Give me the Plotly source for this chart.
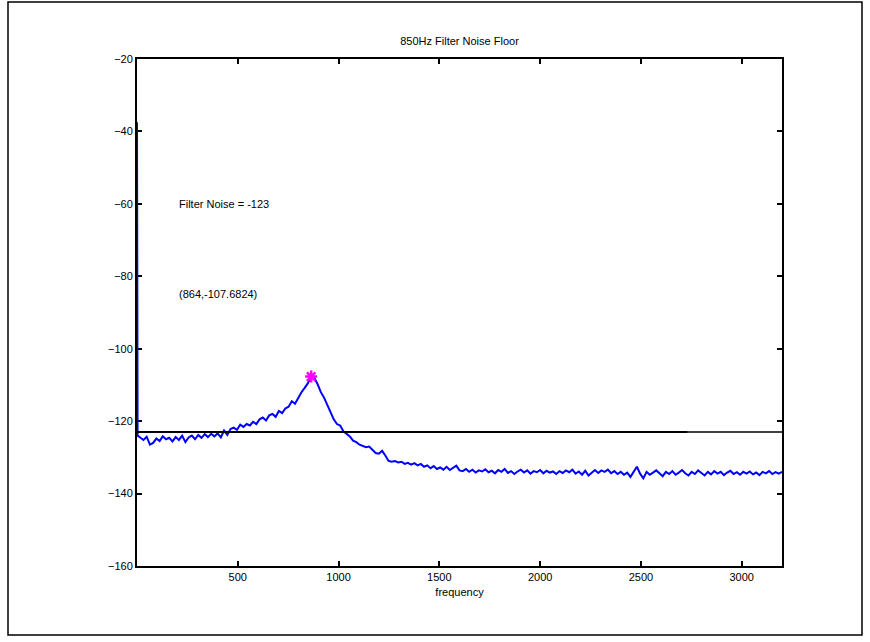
import numpy as np
import plotly.graph_objects as go

# Noise floor spectrum (step 16 Hz starting at 16 Hz)
spike_f = [0, 3]
spike_db = [-37.5, -124.0]
noise_db = [
    -124.5, -125.2, -124.3, -126.5, -126.0, -124.8, -125.5, -124.2, -125.0,
    -124.6, -125.6, -124.4, -125.2, -124.0, -125.8, -124.5, -124.0, -125.0, -123.8,
    -124.6, -123.6, -124.4, -123.5, -124.2, -123.4, -124.5, -122.6, -123.8, -122.2,
    -121.8, -122.4, -121.0, -121.6, -120.8, -121.2, -120.2, -120.8, -119.5, -119.0,
    -119.8, -118.4, -118.0, -118.8, -117.2, -117.8, -116.5, -116.0, -114.5, -115.2,
    -113.5, -112.0, -110.8, -109.5, -107.7, -108.0, -109.8, -112.0, -113.5, -115.5,
    -117.8, -119.5, -120.8, -121.2, -122.8, -123.5, -124.2, -125.4, -125.8, -126.5,
    -126.8, -127.2, -127.0, -127.8, -128.8, -129.0, -128.2, -129.5, -131.0, -131.2,
    -131.0, -131.4, -131.2, -131.8, -131.5, -132.0, -131.6, -132.2, -131.8, -132.6,
    -132.2, -133.0, -132.4, -133.2, -132.8, -133.4, -132.6, -133.5, -133.0, -132.3,
    -133.6, -133.8, -133.2, -134.0, -133.4, -134.2, -133.6, -133.9, -133.3, -134.1,
    -133.7, -134.4, -133.5, -134.0, -133.2, -134.3, -133.8, -134.6, -133.9, -133.4,
    -134.2, -133.6, -134.5, -133.8, -134.1, -133.5, -134.4, -133.7, -134.2, -133.9,
    -134.6, -133.8, -134.3, -133.6, -134.1, -133.4, -134.5, -133.9, -134.8, -133.7,
    -135.0, -134.2, -133.5, -134.3, -133.6, -134.0, -133.4, -134.4, -133.8, -134.6,
    -134.0, -134.8, -134.2, -135.4, -133.8, -132.6, -134.5, -135.8, -134.0, -134.8,
    -134.2, -133.6, -134.4, -135.2, -134.0, -134.6, -133.8, -134.8, -134.2, -133.5,
    -134.4, -135.0, -134.0, -134.6, -133.6, -134.2, -135.0, -134.0, -134.7, -133.8,
    -134.5, -134.0, -134.9, -134.2, -133.7, -134.6, -134.1, -134.8, -134.0, -134.5,
    -133.9, -134.7, -134.2, -134.9, -134.0, -134.4, -133.8, -134.6, -134.1, -134.5,
    -134.0,
]
freq = spike_f + [16 * (i + 1) for i in range(len(noise_db))]
values = spike_db + noise_db

peak_f = [864]
peak_db = [-107.6824]

floor_level = -123
floor_x_full = [0, 3200]
floor_x_thick = [0, 2730]

x_ticks = [500, 1000, 1500, 2000, 2500, 3000]
y_ticks = [-160, -140, -120, -100, -80, -60, -40, -20]

fig = go.Figure()
fig.add_trace(go.Scatter(x=freq, y=values, mode="lines",
                         line=dict(color="#0000FF", width=2), hoverinfo="skip"))
fig.add_trace(go.Scatter(x=floor_x_full, y=[floor_level] * 2, mode="lines",
                         line=dict(color="black", width=1.3)))
fig.add_trace(go.Scatter(x=floor_x_thick, y=[floor_level] * 2, mode="lines",
                         line=dict(color="black", width=2)))
fig.add_trace(go.Scatter(x=peak_f, y=peak_db, mode="markers",
                         marker=dict(symbol="asterisk-open", size=10, color="#FF00FF",
                                     line=dict(color="#FF00FF", width=2.5))))

font = dict(family="Liberation Sans, Arial, sans-serif", size=11, color="black")

fig.update_layout(
    width=870, height=642,
    margin=dict(l=137, r=88, t=59, b=76),
    paper_bgcolor="white", plot_bgcolor="white",
    showlegend=False, font=font,
    title=dict(text="850Hz Filter Noise Floor", x=(137 + 782) / 2 / 870, xanchor="center",
               y=1 - 41 / 642, yanchor="middle", font=font),
    xaxis=dict(range=[0, 3200], tickvals=x_ticks, ticks="inside", ticklen=5,
               tickwidth=1.5, tickcolor="black", showline=True, linecolor="black",
               linewidth=2, mirror="ticks", showgrid=False, zeroline=False,
               layer="below traces",
               title=dict(text="frequency", font=font, standoff=6)),
    yaxis=dict(range=[-160, -20], tickvals=y_ticks, ticks="inside", ticklen=5,
               tickwidth=1.5, tickcolor="black", showline=True, linecolor="black",
               linewidth=2, mirror="ticks", showgrid=False, zeroline=False,
               layer="below traces"),
    annotations=[
        dict(x=200, y=-60, xref="x", yref="y", text="Filter Noise = -123",
             showarrow=False, xanchor="left", yanchor="middle", font=font),
        dict(x=200, y=-85, xref="x", yref="y", text="(864,-107.6824)",
             showarrow=False, xanchor="left", yanchor="middle", font=font),
    ],
    shapes=[dict(type="rect", xref="paper", yref="paper",
                 x0=(8 - 137) / 645, x1=(862 - 137) / 645,
                 y0=(566 - 635) / 507, y1=1 + (59 - 2) / 507,
                 line=dict(color="black", width=1.5), layer="below")],
)

fig.write_html("out.html")
